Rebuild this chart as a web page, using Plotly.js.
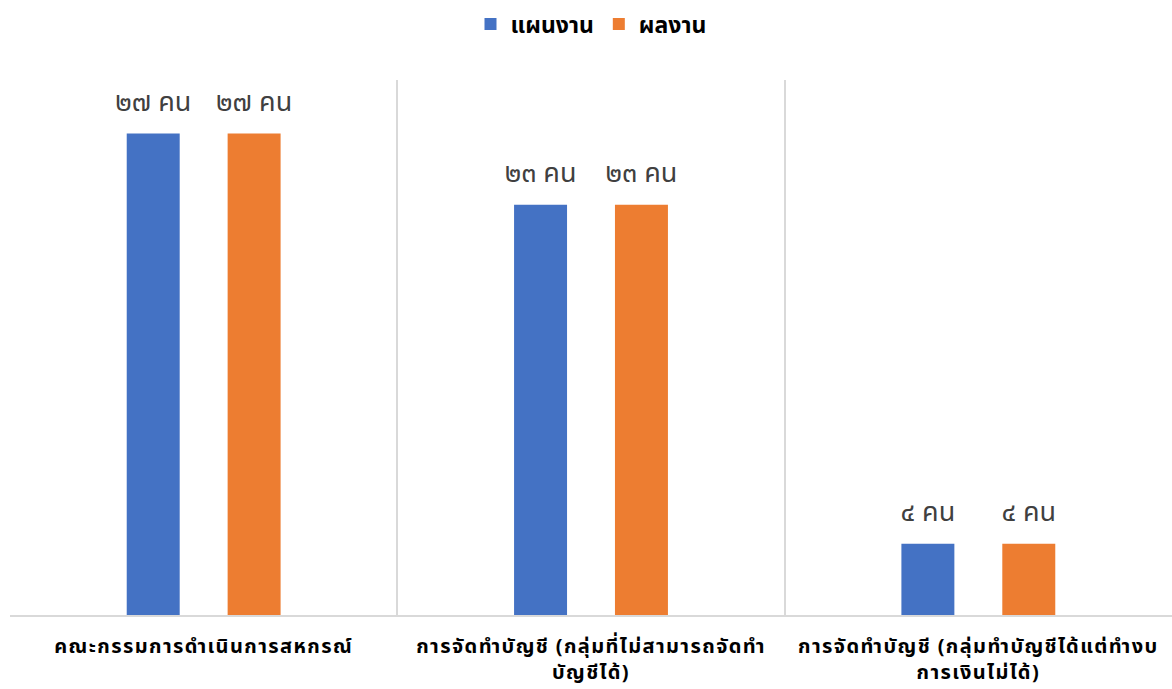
<!DOCTYPE html>
<html>
<head>
<meta charset="utf-8">
<script src="https://cdn.plot.ly/plotly-3.0.1.min.js"></script>
<style>
html,body{margin:0;padding:0;background:#fff;}
.xtick text{letter-spacing:1.4px;}
.legend .legendbar{transform:scale(1.45);}
</style>
</head>
<body>
<div id="chart" style="width:1172px;height:689px;"></div>
<script>
const categories = [
  "คณะกรรมการดำเนินการสหกรณ์",
  "การจัดทำบัญชี (กลุ่มที่ไม่สามารถจัดทำ<br>บัญชีได้)",
  "การจัดทำบัญชี (กลุ่มทำบัญชีได้แต่ทำงบ<br>การเงินไม่ได้)"
];
const seriesNames = ["แผนงาน", "ผลงาน"];
const planValues = [27, 23, 4];
const resultValues = [27, 23, 4];
const unit = "คน";

const thaiDigits = "๐๑๒๓๔๕๖๗๘๙";
function toThai(n){ return String(n).replace(/[0-9]/g, d => thaiDigits[+d]); }
function labels(vals){ return vals.map(v => toThai(v) + " " + unit); }

const FONT = "'Noto Sans Thai', 'Noto Sans', Loma, Garuda, sans-serif";
const colors = ["#4472C4", "#ED7D31"];
const allValues = [planValues, resultValues];

const traces = [];
allValues.forEach((vals, i) => {
  traces.push({type:"bar", name:seriesNames[i], x:categories, y:vals, offsetgroup:String(i),
    marker:{color:colors[i]}, hoverinfo:"none"});
});
allValues.forEach((vals, i) => {
  traces.push({type:"scatter", mode:"markers+text", x:categories, y:vals, offsetgroup:String(i),
    text:labels(vals), textposition:"top center", cliponaxis:false, showlegend:false,
    marker:{size:24, color:"rgba(0,0,0,0)"},
    textfont:{size:27, color:"#404040", family:FONT}, hoverinfo:"none"});
});

const layout = {
  width:1172, height:689,
  margin:{l:10, r:0, t:80, b:74},
  paper_bgcolor:"#ffffff", plot_bgcolor:"#ffffff",
  font:{family:FONT, color:"#000"},
  barmode:"group", bargap:0.479, bargroupgap:0.475,
  scattermode:"group", scattergap:0.479,
  showlegend:true,
  legend:{orientation:"h", x:0.5, xanchor:"center", yref:"container", y:0.965, yanchor:"middle",
          font:{size:23, color:"#000", family:FONT, weight:"bold"}, itemclick:false},
  xaxis:{tickson:"boundaries", showgrid:true, gridcolor:"#d9d9d9", gridwidth:2,
         showline:true, linecolor:"#d9d9d9", linewidth:2, ticks:"", mirror:false,
         ticklabelstandoff:12,
         tickfont:{size:20, color:"#000", family:FONT, weight:"bold"}, automargin:false},
  yaxis:{range:[0,30], visible:false, showgrid:false, zeroline:false}
};

Plotly.newPlot("chart", traces, layout, {displayModeBar:false, staticPlot:true});
</script>
</body>
</html>
